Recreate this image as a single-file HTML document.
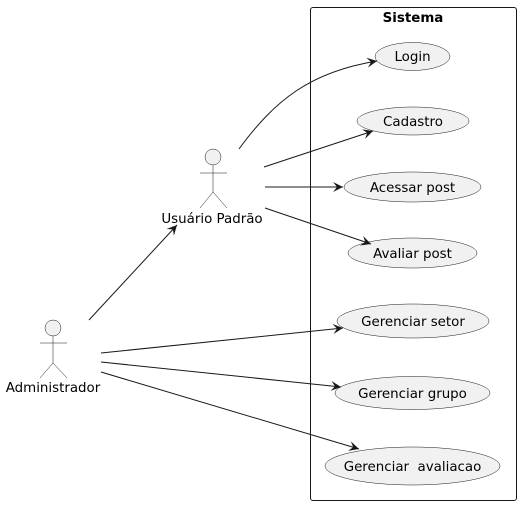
<!DOCTYPE html>
<html><head><meta charset="utf-8"><style>
html,body{margin:0;padding:0;background:#fff;}
svg{display:block;}
text{font-family:"DejaVu Sans","Liberation Sans",sans-serif;font-size:13.4px;fill:#000;}
</style></head><body>
<svg width="522" height="507" viewBox="0 0 522 507" xmlns="http://www.w3.org/2000/svg">
<defs>
<marker id="a" markerWidth="12" markerHeight="10" refX="10" refY="5" orient="auto" markerUnits="userSpaceOnUse">
<path d="M0,0 L10,5 L0,10 L4,5 Z" fill="#181818"/>
</marker>
</defs>
<rect x="310.5" y="7.5" width="206" height="493" rx="2.5" fill="none" stroke="#181818" stroke-width="1"/>
<text x="413" y="22" text-anchor="middle" style="font-weight:bold">Sistema</text>
<g fill="#f1f1f1" stroke="#181818" stroke-width="0.5">
<ellipse cx="412.5" cy="56.5" rx="37.5" ry="14"/>
<ellipse cx="413" cy="121" rx="56" ry="14"/>
<ellipse cx="412.5" cy="187" rx="68.5" ry="15"/>
<ellipse cx="412.5" cy="253" rx="64.5" ry="15"/>
<ellipse cx="413" cy="321" rx="76" ry="17"/>
<ellipse cx="412.5" cy="393" rx="77.5" ry="16.5"/>
<ellipse cx="412.5" cy="466" rx="87.5" ry="19"/>
</g>
<g text-anchor="middle">
<text x="412.5" y="61">Login</text>
<text x="413" y="126">Cadastro</text>
<text x="412.5" y="192">Acessar post</text>
<text x="412.5" y="258">Avaliar post</text>
<text x="413" y="326">Gerenciar setor</text>
<text x="412.5" y="398">Gerenciar grupo</text>
<text x="412.5" y="471" xml:space="preserve">Gerenciar  avaliacao</text>
</g>
<g fill="none" stroke="#181818" stroke-width="0.5">
<circle cx="213" cy="157" r="8" fill="#f1f1f1"/>
<path d="M213,165 V192 M200,173 H227 M200,208 L213,192 L227,208"/>
<circle cx="53" cy="328" r="8" fill="#f1f1f1"/>
<path d="M53,336 V363 M40,343 H67 M40,378 L53,363 L67,378"/>
</g>
<text x="212" y="223" text-anchor="middle">Usuário Padrão</text>
<text x="53" y="392" text-anchor="middle">Administrador</text>
<g fill="none" stroke="#181818" stroke-width="1" marker-end="url(#a)">
<path d="M239,149 C275,100 310,72 377,61"/>
<path d="M264,167 L373,131"/>
<path d="M265,187 L343,187"/>
<path d="M265,208 L371,244"/>
<path d="M89,320 L177,225"/>
<path d="M101,353 L343,328"/>
<path d="M101,362 L341,387"/>
<path d="M101,372 L359,449"/>
</g>
</svg>
</body></html>
